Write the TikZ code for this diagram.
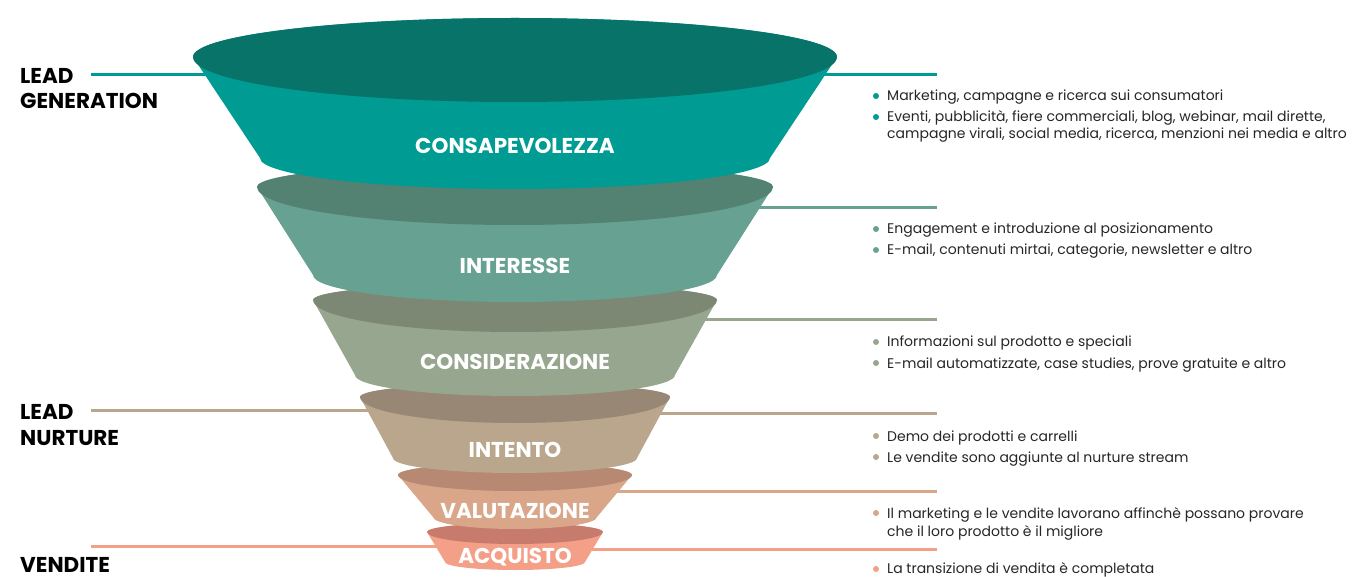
\documentclass[tikz,border=0pt]{standalone}
\usepackage{fontspec}
\setmainfont{Poppins}
\usepackage{tikz}

\definecolor{top1}{HTML}{077369}
\definecolor{body1}{HTML}{009B93}
\definecolor{top2}{HTML}{548272}
\definecolor{body2}{HTML}{67A191}
\definecolor{top3}{HTML}{7C8873}
\definecolor{body3}{HTML}{97A68F}
\definecolor{top4}{HTML}{978774}
\definecolor{body4}{HTML}{BAA68C}
\definecolor{top5}{HTML}{B78872}
\definecolor{body5}{HTML}{D9A68A}
\definecolor{top6}{HTML}{C77B6C}
\definecolor{body6}{HTML}{F4A088}

\begin{document}
\begin{tikzpicture}[x=1pt, y=-1pt,
  tag/.style = {anchor=base west, inner sep=0, text=black, font=\fontsize{21.5}{21.5}\selectfont\bfseries},
  stage/.style = {anchor=base, inner sep=0, text=white, font=\fontsize{21.5}{21.5}\selectfont\bfseries},
  item/.style = {anchor=base west, inner sep=0, text=black!85, font=\fontsize{14}{14}\selectfont},
  link/.style = {line width=3pt}]
\useasboundingbox (0,0) rectangle (1355,577);

\coordinate (l1) at (91,75);   \coordinate (f1) at (215,75);
\coordinate (l4) at (91,410);  \coordinate (f4) at (375,410);
\coordinate (l6) at (91,546);  \coordinate (f6) at (440,546);

\coordinate (g1) at (815,75);  \coordinate (r1) at (937,75);
\coordinate (g2) at (750,208); \coordinate (r2) at (937,208);
\coordinate (g3) at (695,320); \coordinate (r3) at (937,320);
\coordinate (g4) at (650,413); \coordinate (r4) at (937,413);
\coordinate (g5) at (610,491); \coordinate (r5) at (937,491);
\coordinate (g6) at (585,549); \coordinate (r6) at (937,549);

\draw[link, body1] (l1) -- (f1);
\draw[link, body4] (l4) -- (f4);
\draw[link, body6] (l6) -- (f6);
\draw[link, body1] (g1) -- (r1);
\draw[link, body2] (g2) -- (r2);
\draw[link, body3] (g3) -- (r3);
\draw[link, body4] (g4) -- (r4);
\draw[link, body5] (g5) -- (r5);
\draw[link, body6] (g6) -- (r6);

% funnel, bottom ring first
\fill[body6] (427,532) -- (445,562) arc[start angle=180, end angle=360, x radius=70pt, y radius=8pt] -- (603,532) arc[start angle=0, end angle=180, x radius=88pt, y radius=9pt] -- cycle;
\fill[top6] (603,532) arc[start angle=0, end angle=180, x radius=88pt, y radius=9pt] arc[start angle=180, end angle=360, x radius=88pt, y radius=12pt] -- cycle;

\fill[body5] (398,475) -- (433,517) arc[start angle=180, end angle=360, x radius=82pt, y radius=12pt] -- (632,475) arc[start angle=0, end angle=180, x radius=117pt, y radius=12pt] -- cycle;
\fill[top5] (632,475) arc[start angle=0, end angle=180, x radius=117pt, y radius=12pt] arc[start angle=180, end angle=360, x radius=117pt, y radius=16pt] -- cycle;

\fill[body4] (360,397) -- (393,458) arc[start angle=180, end angle=360, x radius=122pt, y radius=15pt] -- (670,397) arc[start angle=0, end angle=180, x radius=155pt, y radius=14pt] -- cycle;
\fill[top4] (670,397) arc[start angle=0, end angle=180, x radius=155pt, y radius=14pt] arc[start angle=180, end angle=360, x radius=155pt, y radius=26pt] -- cycle;

\fill[body3] (313,300) -- (355,375) arc[start angle=180, end angle=360, x radius=160pt, y radius=21pt] -- (717,300) arc[start angle=0, end angle=180, x radius=202pt, y radius=17pt] -- cycle;
\fill[top3] (717,300) arc[start angle=0, end angle=180, x radius=202pt, y radius=17pt] arc[start angle=180, end angle=360, x radius=202pt, y radius=32pt] -- cycle;

\fill[body2] (257,187) -- (313,275) arc[start angle=180, end angle=360, x radius=202pt, y radius=27pt] -- (773,187) arc[start angle=0, end angle=180, x radius=258pt, y radius=24pt] -- cycle;
\fill[top2] (773,187) arc[start angle=0, end angle=180, x radius=258pt, y radius=24pt] arc[start angle=180, end angle=360, x radius=258pt, y radius=38pt] -- cycle;

\fill[body1] (193,57) -- (260,158) arc[start angle=180, end angle=360, x radius=255pt, y radius=31pt] -- (837,57) arc[start angle=0, end angle=180, x radius=322pt, y radius=39pt] -- cycle;
\fill[top1] (837,57) arc[start angle=0, end angle=180, x radius=322pt, y radius=39pt] arc[start angle=180, end angle=360, x radius=322pt, y radius=45pt] -- cycle;

\node[stage] (s1) at (515,154) {CONSAPEVOLEZZA};
\node[stage] (s2) at (515,274) {INTERESSE};
\node[stage] (s3) at (515,370) {CONSIDERAZIONE};
\node[stage] (s4) at (515,457) {INTENTO};
\node[stage] (s5) at (515,518) {VALUTAZIONE};
\node[stage] (s6) at (515,563) {ACQUISTO};

\node[tag] (lg1) at (20,84) {LEAD};
\node[tag] (lg2) at (20,109) {GENERATION};
\node[tag] (ln1) at (20,419) {LEAD};
\node[tag] (ln2) at (20,445) {NURTURE};
\node[tag] (v1) at (20,572) {VENDITE};

\fill[body1] (876,96) circle (3pt);
\fill[body1] (876,117) circle (3pt);
\node[item] (t1a) at (887,101) {Marketing, campagne e ricerca sui consumatori};
\node[item] (t1b) at (887,122) {Eventi, pubblicità, fiere commerciali, blog, webinar, mail dirette,};
\node[item] (t1c) at (887,139) {campagne virali, social media, ricerca, menzioni nei media e altro};

\fill[body2] (876,229) circle (3pt);
\fill[body2] (876,250) circle (3pt);
\node[item] (t2a) at (887,234) {Engagement e introduzione al posizionamento};
\node[item] (t2b) at (887,255) {E-mail, contenuti mirtai, categorie, newsletter e altro};

\fill[body3] (876,342) circle (3pt);
\fill[body3] (876,363) circle (3pt);
\node[item] (t3a) at (887,347) {Informazioni sul prodotto e speciali};
\node[item] (t3b) at (887,368) {E-mail automatizzate, case studies, prove gratuite e altro};

\fill[body4] (876,436) circle (3pt);
\fill[body4] (876,457) circle (3pt);
\node[item] (t4a) at (887,441) {Demo dei prodotti e carrelli};
\node[item] (t4b) at (887,462) {Le vendite sono aggiunte al nurture stream};

\fill[body5] (876,513) circle (3pt);
\node[item] (t5a) at (887,518) {Il marketing e le vendite lavorano affinchè possano provare};
\node[item] (t5b) at (887,536) {che il loro prodotto è il migliore};

\fill[body6] (876,569) circle (3pt);
\node[item] (t6a) at (887,573) {La transizione di vendita è completata};

\end{tikzpicture}
\end{document}
